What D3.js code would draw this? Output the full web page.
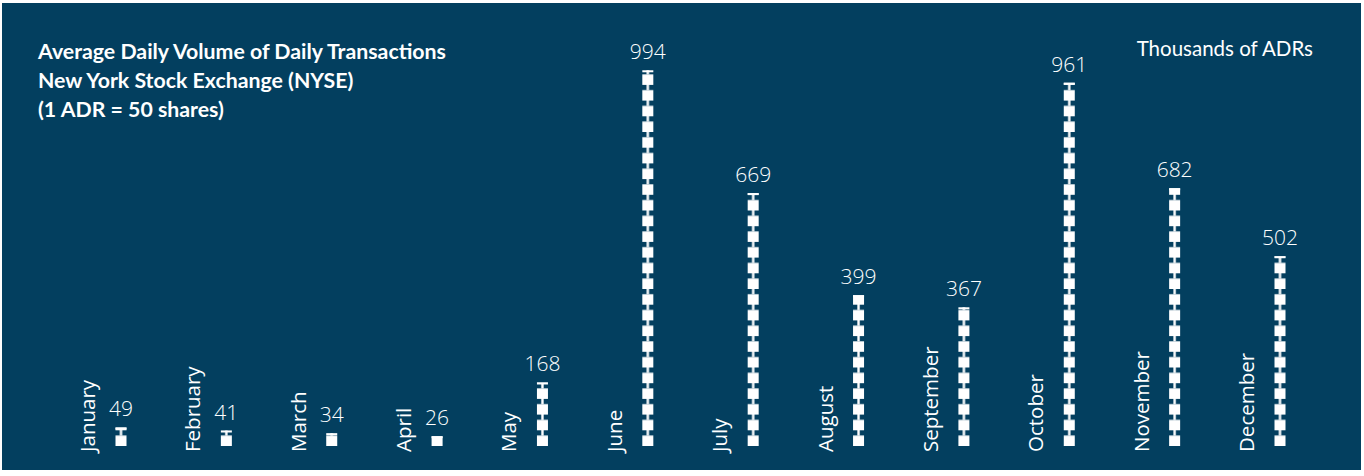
<!DOCTYPE html>
<html><head><meta charset="utf-8">
<script src="https://cdn.jsdelivr.net/npm/d3@7"></script>
<style>html,body{margin:0;padding:0;background:#fff;}svg{display:block;}</style>
</head><body>
<script>
const months = ["January","February","March","April","May","June","July","August","September","October","November","December"];
const volumes = [49,41,34,26,168,994,669,399,367,961,682,502];
const titleLines = ["Average Daily Volume of Daily Transactions","New York Stock Exchange (NYSE)","(1 ADR = 50 shares)"];
const unitLabel = "Thousands of ADRs";

const W = 1364, H = 476;
const svg = d3.select("body").append("svg").attr("width", W).attr("height", H);
svg.append("rect").attr("x",2).attr("y",3).attr("width",1359).attr("height",467).attr("fill","#033f5f");

const baseY = 446;
const x = d3.scalePoint().domain(months).range([121, 1280]);
const y = d3.scaleLinear().domain([0, 1000]).range([baseY, baseY - 378]);

const P = 15.7, SQ = 10.5, BW = 11, STEM = 2.4;
const defs = svg.append("defs");
months.forEach((m, i) => {
  const cx = x(m);
  const pat = defs.append("pattern").attr("id", "pat" + i)
    .attr("patternUnits", "userSpaceOnUse")
    .attr("x", cx - BW / 2).attr("y", baseY)
    .attr("width", BW).attr("height", P);
  pat.append("rect").attr("x", 0).attr("y", P - SQ).attr("width", BW).attr("height", SQ).attr("fill", "#fff");
  pat.append("rect").attr("x", (BW - STEM) / 2).attr("y", 0).attr("width", STEM).attr("height", P - SQ).attr("fill", "#fff");
});

const g = svg.append("g");
g.selectAll("rect.bar").data(volumes).join("rect").attr("class","bar")
  .attr("x", (d,i) => x(months[i]) - BW/2)
  .attr("y", d => y(d))
  .attr("width", BW)
  .attr("height", d => baseY - y(d))
  .attr("fill", (d,i) => `url(#pat${i})`);
g.selectAll("rect.cap").data(volumes).join("rect").attr("class","cap")
  .attr("x", (d,i) => x(months[i]) - BW/2)
  .attr("y", d => y(d))
  .attr("width", BW).attr("height", 2).attr("fill", "#fff");

g.selectAll("text.val").data(volumes).join("text").attr("class","val")
  .attr("x", (d,i) => x(months[i]))
  .attr("y", d => y(d) - 11)
  .attr("text-anchor","middle")
  .attr("font-family","Open Sans").attr("font-weight",300).attr("font-size",21)
  .attr("fill","#fff").text(d => d);

g.selectAll("text.month").data(months).join("text").attr("class","month")
  .attr("transform", d => `translate(${x(d) - 26},${452}) rotate(-90)`)
  .attr("text-anchor","start")
  .attr("font-family","Open Sans").attr("font-size",20.5)
  .attr("fill","#fff").text(d => d);

svg.append("g").selectAll("text").data(titleLines).join("text")
  .attr("x", 38).attr("y", (d,i) => 59 + i*29)
  .attr("font-family","Lato").attr("font-weight",700).attr("font-size",21.3)
  .attr("fill","#fff").text(d => d);

svg.append("text").attr("x",1313).attr("y",56).attr("text-anchor","end")
  .attr("font-family","Lato").attr("font-size",20.5).attr("fill","#fff").text(unitLabel);
</script>
</body></html>
